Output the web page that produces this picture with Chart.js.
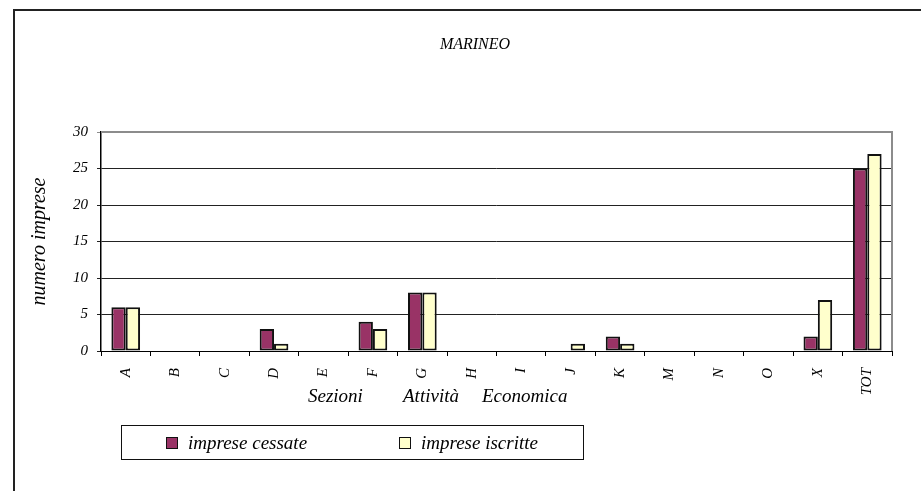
<!DOCTYPE html>
<html>
<head>
<meta charset="utf-8">
<script src="https://cdn.jsdelivr.net/npm/chart.js@4/dist/chart.umd.min.js"></script>
<style>
  html, body { margin: 0; padding: 0; background: #fff; }
  #wrap { position: relative; width: 921px; height: 491px; overflow: hidden; }
  #frame { position: absolute; left: 13px; top: 9px; width: 1000px; height: 600px;
           border-left: 2px solid #222; border-top: 2px solid #222; }
  #chart { position: absolute; left: 0; top: 0; }
  #legend { position: absolute; left: 121px; top: 425px; width: 463px; height: 35px;
            border: 1px solid #111; box-sizing: border-box;
            font: italic 19px "Liberation Serif", "DejaVu Serif", serif; color: #000; }
  .item { position: absolute; top: 6px; display: flex; align-items: center; }
  .swatch { width: 10px; height: 10px; border: 1.5px solid #111; margin-right: 10px; }
</style>
</head>
<body>
<div id="wrap">
  <div id="frame"></div>
  <canvas id="chart" width="921" height="491"></canvas>
  <div id="legend"></div>
</div>
<script>
/* ---------- Data ---------- */
const categories = ["A", "B", "C", "D", "E", "F", "G", "H", "I", "J", "K", "M", "N", "O", "X", "TOT"];
const cessate   = [6, 0, 0, 3, 0, 4, 8, 0, 0, 0, 2, 0, 0, 0, 2, 25];
const iscritte  = [6, 0, 0, 1, 0, 3, 8, 0, 0, 1, 1, 0, 0, 0, 7, 27];
const seriesNames = ["imprese cessate", "imprese iscritte"];
const seriesColors = ["#993366", "#FFFFCC"];
const chartTitle = "MARINEO";
const xTitleWords = ["Sezioni", "Attività", "Economica"];

const SERIF = '"Liberation Serif", "DejaVu Serif", serif';

/* ---------- Plot frame (gray top/right), title, x title words ---------- */
const extrasPlugin = {
  id: "extras",
  afterDraw(chart) {
    const { ctx, chartArea: a } = chart;
    ctx.save();
    ctx.strokeStyle = "#8c8c8c";
    ctx.lineWidth = 2;
    ctx.beginPath();
    ctx.moveTo(a.left, a.top);
    ctx.lineTo(a.right, a.top);
    ctx.lineTo(a.right, a.bottom);
    ctx.stroke();

    ctx.fillStyle = "#000";
    ctx.textBaseline = "middle";
    // chart title (sits a bit right of centre in the original)
    ctx.font = "italic 16px " + SERIF;
    ctx.textAlign = "center";
    ctx.fillText(chartTitle, 475, 45);

    // x axis title, words spread like the original
    ctx.font = "italic 19px " + SERIF;
    ctx.textAlign = "left";
    const xs = [308, 403, 482];
    xTitleWords.forEach((w, i) => ctx.fillText(w, xs[i], 397));
    ctx.restore();
  }
};

const chart = new Chart(document.getElementById("chart"), {
  type: "bar",
  data: {
    labels: categories,
    datasets: [
      { label: seriesNames[0], data: cessate,  backgroundColor: seriesColors[0] },
      { label: seriesNames[1], data: iscritte, backgroundColor: seriesColors[1] }
    ]
  },
  options: {
    responsive: false,
    animation: false,
    layout: { padding: { left: 0, right: 29, top: 132, bottom: 0 } },
    datasets: {
      bar: {
        borderColor: "#111",
        borderWidth: 2,
        borderSkipped: false,
        categoryPercentage: 0.58,
        barPercentage: 1.0
      }
    },
    plugins: {
      legend: { display: false },
      tooltip: { enabled: false }
    },
    scales: {
      x: {
        grid: { offset: true, drawOnChartArea: false, drawTicks: true, tickLength: 5, color: "#000" },
        border: { color: "#000", width: 1 },
        ticks: {
          color: "#000",
          font: { family: SERIF, size: 15, style: "italic" },
          maxRotation: 90, minRotation: 90,
          padding: 12
        },
        afterFit(scale) { scale.height = 140; }
      },
      y: {
        min: 0, max: 30,
        ticks: {
          stepSize: 5,
          color: "#000",
          font: { family: SERIF, size: 15, style: "italic" },
          padding: 9
        },
        grid: {
          color: (c) => c.tick && c.tick.value === 30 ? "#8c8c8c" : "#222",
          lineWidth: 1,
          tickLength: 4
        },
        border: { color: "#000", width: 1.5 },
        title: {
          display: true,
          text: "numero imprese",
          color: "#000",
          font: { family: SERIF, size: 20, style: "italic" },
          padding: { top: 28, bottom: 0 }
        },
        afterFit(scale) { scale.width = 101; }
      }
    }
  },
  plugins: [extrasPlugin]
});

/* ---------- HTML legend ---------- */
const legendEl = document.getElementById("legend");
const legendX = [44, 277];
seriesNames.forEach((name, i) => {
  const it = document.createElement("div");
  it.className = "item";
  it.style.left = legendX[i] + "px";
  const sw = document.createElement("span");
  sw.className = "swatch";
  sw.style.background = seriesColors[i];
  const tx = document.createElement("span");
  tx.textContent = name;
  it.appendChild(sw); it.appendChild(tx);
  legendEl.appendChild(it);
});
</script>
</body>
</html>
